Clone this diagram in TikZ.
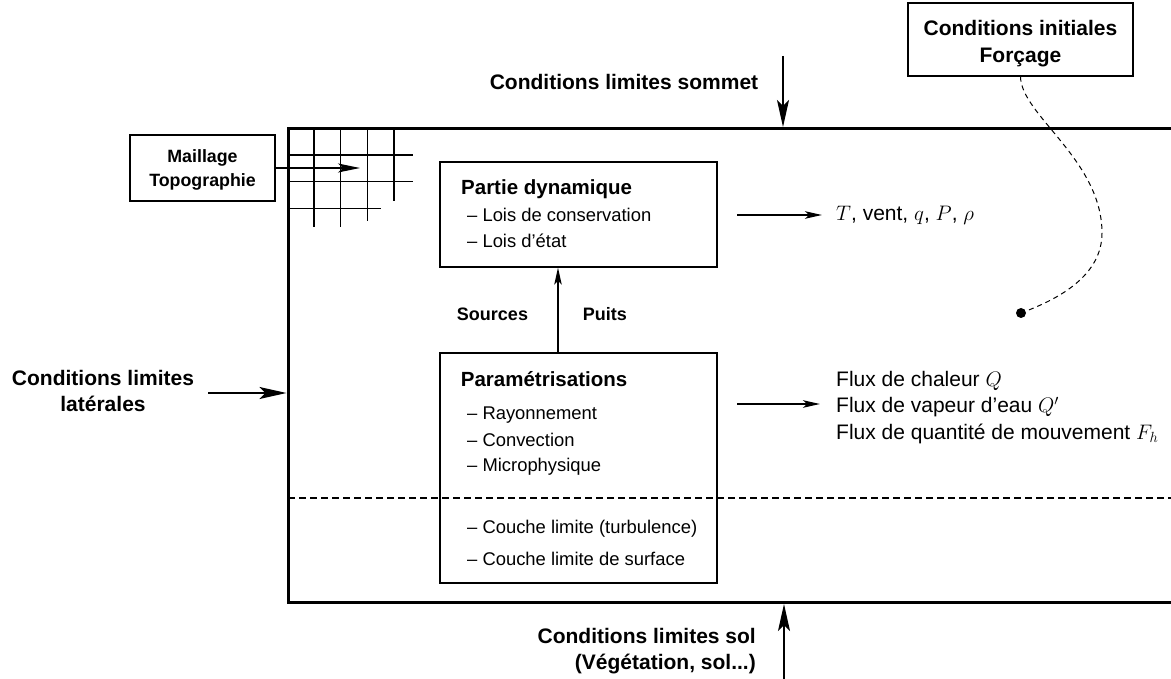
\documentclass[tikz,border=0pt]{standalone}
\usepackage{fix-cm}
\usepackage{fontspec}
\setmainfont{Liberation Sans}
\usetikzlibrary{arrows.meta}

\tikzset{
  wall/.style={line width=3pt},
  panel/.style={draw, line width=1.3pt, inner sep=0pt},
  gridline/.style={line width=1.3pt},
  tagbold/.style={inner sep=0pt, font=\fontsize{21}{26}\selectfont\bfseries},
  boxhead/.style={inner sep=0pt, font=\fontsize{20.5}{26}\selectfont\bfseries},
  boxitem/.style={inner sep=0pt, font=\fontsize{18.4}{24}\selectfont},
  plain/.style={inner sep=0pt, font=\fontsize{21}{26}\selectfont},
  smallbold/.style={inner sep=0pt, font=\fontsize{18}{24}\selectfont\bfseries},
  meshfont/.style={inner sep=0pt, font=\fontsize{17.8}{24}\selectfont\bfseries},
  bigarrow/.style={line width=1.4pt, -{Stealth[length=27pt,width=12pt,inset=6pt]}},
  midarrow/.style={line width=1.4pt, -{Stealth[length=22pt,width=9pt,inset=5pt]}},
  smallarrow/.style={line width=1.3pt, -{Stealth[length=17pt,width=7.5pt,inset=4pt]}},
  dashcurve/.style={line width=1pt, dash pattern=on 5pt off 4pt},
}

\begin{document}
\begin{tikzpicture}[x=1pt,y=-1pt]
\useasboundingbox (0,0) rectangle (1171,679);

% model domain (open towards the right)
\draw[wall] (1171,128.5) -- (288,128.5) -- (288,602.5) -- (1171,602.5);
% top of the surface layer
\draw[line width=1.1pt, dash pattern=on 7pt off 4pt] (288,498) -- (1171,498);

% computational grid in the upper left corner
\foreach \x/\b in {314/227, 340.7/227, 367.3/221, 394/201}
  \draw[gridline] (\x,128.5) -- (\x,\b);
\foreach \y/\r in {155/413, 181.7/413, 208.3/381}
  \draw[gridline] (288,\y) -- (\r,\y);

% mesh / topography input
\node[panel, minimum width=145pt, minimum height=66pt] (meshbox) at (202.5,168) {};
\node[meshfont, anchor=base] (meshA) at (202.5,162.7) {Maillage};
\node[meshfont, anchor=base] (meshB) at (202.5,186.7) {Topographie};
\coordinate (meshtip) at (360,168);
\draw[midarrow] (meshbox.east) -- (meshtip);

% dynamical core
\node[panel, minimum width=277pt, minimum height=105pt] (dyn) at (578.5,214.5) {};
\node[boxhead, anchor=base west] (dynhead) at (461,195) {Partie dynamique};
\node[boxitem, anchor=base west] (dynA) at (467,221.7) {-- Lois de conservation};
\node[boxitem, anchor=base west] (dynB) at (467,247.3) {-- Lois d'état};

% prognostic variables
\node[plain, anchor=base west] (vars) at (836,221) {$T$, vent, $q$, $P$, $\rho$};
\coordinate (dynout) at (737,215);
\draw[smallarrow, shorten >=14pt] (dynout) -- (dynout -| vars.west);

% physical parameterisations
\node[panel, minimum width=277pt, minimum height=230pt] (par) at (578.5,468) {};
\node[boxhead, anchor=base west] (parhead) at (460.7,386) {Paramétrisations};
\node[boxitem, anchor=base west] (parA) at (467,419.3) {-- Rayonnement};
\node[boxitem, anchor=base west] (parB) at (467,446) {-- Convection};
\node[boxitem, anchor=base west] (parC) at (467,471.7) {-- Microphysique};
\node[boxitem, anchor=base west] (parD) at (467,533.3) {-- Couche limite (turbulence)};
\node[boxitem, anchor=base west] (parE) at (467,565) {-- Couche limite de surface};

% sources and sinks feeding the dynamics
\draw[smallarrow] ([xshift=-20.5pt]par.north) -- ([xshift=-20.5pt]dyn.south);
\node[smallbold, anchor=base] (src) at (492.5,320) {Sources};
\node[smallbold, anchor=base west] (sink) at (582.7,320) {Puits};

% fluxes
\node[plain, anchor=base west] (fluxA) at (836,386) {Flux de chaleur $Q$};
\node[plain, anchor=base west] (fluxB) at (836,412.7) {Flux de vapeur d'eau $Q'$};
\node[plain, anchor=base west] (fluxC) at (836,439.3) {Flux de quantité de mouvement $F_h$};
\coordinate (parout) at (737,404);
\draw[smallarrow, shorten >=16pt] (parout) -- (parout -| fluxB.west);

% initial conditions and forcing
\node[panel, minimum width=225pt, minimum height=73pt] (init) at (1020.5,39.5) {};
\node[tagbold, anchor=base] (initA) at (1020.5,36) {Conditions initiales};
\node[tagbold, anchor=base] (initB) at (1020.5,62.7) {Forçage};
\node[circle, fill, inner sep=0pt, minimum size=10pt] (seed) at (1021,313) {};
\draw[dashcurve] (init.south) .. controls (1021,115) and (1102,160) .. (1102,233)
  .. controls (1102,275) and (1060,298) .. (seed);

% upper boundary
\node[tagbold, anchor=base] (topbc) at (624,89.3) {Conditions limites sommet};
\coordinate (topfrom) at (783,56);
\coordinate (topto) at (783,127);
\draw[bigarrow] (topfrom) -- (topto);

% lateral boundary
\node[tagbold, anchor=base] (latA) at (103,385) {Conditions limites};
\node[tagbold, anchor=base] (latB) at (103,411.7) {latérales};
\coordinate (latfrom) at (208,393);
\coordinate (latto) at (286.5,393);
\draw[bigarrow] (latfrom) -- (latto);

% lower boundary
\node[tagbold, anchor=base east] (botA) at (756,643.3) {Conditions limites sol};
\node[tagbold, anchor=base east] (botB) at (756,669.3) {(Végétation, sol...)};
\coordinate (botfrom) at (784,679);
\coordinate (botto) at (784,604);
\draw[bigarrow] (botfrom) -- (botto);
\end{tikzpicture}
\end{document}
